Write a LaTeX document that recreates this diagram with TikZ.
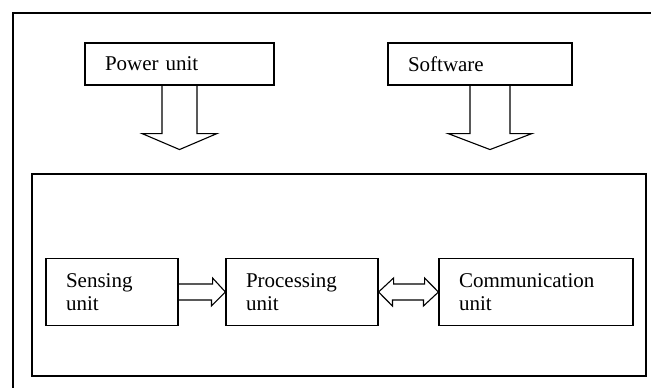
\documentclass[tikz,border=0pt]{standalone}
\usepackage{fontspec}
\setmainfont{Liberation Serif}
\begin{document}
\begin{tikzpicture}[x=1pt, y=-1pt,
    unit/.style={draw, line width=1.1pt, align=left, inner xsep=20pt, inner ysep=0pt,
                 font=\fontsize{21}{23}\selectfont},
    blockarrow/.style={draw, line width=1.1pt, line join=miter}]
            \useasboundingbox (0,0) rectangle (651,388);
            \clip (0,0) rectangle (651,388);
            \draw[line width=1.2pt] (13,13) rectangle (700,420);

            \node (power) at (179.5,64) [unit, text width=149pt, minimum height=42pt] {Power unit};
            \node (soft) at (480,64) [unit, text width=144pt, minimum height=42pt] {Software};
            \node (sys) at (339,275) [draw, line width=1.1pt, minimum width=614pt, minimum height=202pt] {};
            \node (sense) at (112,292) [unit, text width=92pt, minimum height=67pt] {Sensing\\unit};
            \node (proc) at (302,292) [unit, text width=112pt, minimum height=67pt] {Processing\\unit};
            \node (comm) at (536,292) [unit, text width=154pt, minimum height=67pt] {Communication\\unit};

            \draw[blockarrow] ([xshift=-17.5pt]power.south) -- ++(0,48) -- ++(-20,0) -- ++(37.5,16) -- ++(37.5,-16) -- ++(-20,0) -- ([xshift=17.5pt]power.south);
            \draw[blockarrow] ([xshift=-10pt]soft.south) -- ++(0,48) -- ++(-22,0) -- ++(42,16) -- ++(42,-16) -- ++(-22,0) -- ([xshift=30pt]soft.south);
            \draw[blockarrow] ([yshift=8pt]sense.east) -- ++(34,0) -- ++(0,-6) -- (proc.west) -- ++(-14,14) -- ++(0,-6) -- ([yshift=-8pt]sense.east);
            \draw[blockarrow] (proc.east) -- ++(15,-14) -- ++(0,6) -- ++(31,0) -- ++(0,-6) -- (comm.west) -- ++(-15,14) -- ++(0,-6) -- ++(-31,0) -- ++(0,6) -- cycle;
        \end{tikzpicture}
\end{document}
